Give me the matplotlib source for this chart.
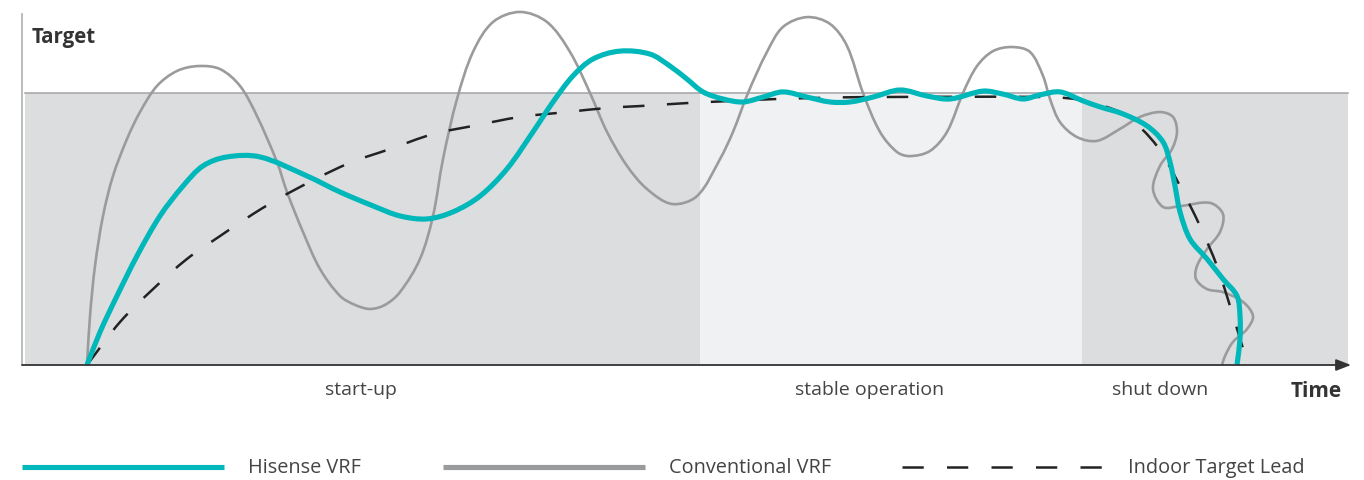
import numpy as np
import matplotlib.pyplot as plt
from matplotlib.lines import Line2D
from matplotlib.path import Path
from matplotlib.patches import PathPatch

# curves: time (arbitrary units) vs level (1.0 = target)
hisense_t = [6.5, 7.8, 9.5, 11.5, 13.8, 16.1, 18.1, 20.5, 23.8, 28.5, 31.8, 35.1, 37.8, 40.5,
             43.1, 45.8, 48.5, 51.1, 53.1, 55.1, 57.1, 59.8, 62.8, 64.8, 66.5, 68.1, 70.1,
             72.1, 74.1, 76.1, 78.5, 80.8, 82.8, 85.1, 87.8, 90.5, 92.8, 96.1, 98.1, 100.1,
             101.8, 103.8, 106.1, 107.8, 110.1, 112.5, 114.1, 114.8, 115.3, 115.8, 116.8,
             118.5, 120.1, 121.5, 121.8, 121.8, 121.5]
hisense_v = [0.0, 0.121, 0.254, 0.401, 0.548, 0.658, 0.732, 0.765, 0.765, 0.695, 0.636, 0.585,
             0.548, 0.537, 0.563, 0.621, 0.721, 0.857, 0.967, 1.063, 1.125, 1.154, 1.143, 1.099,
             1.051, 1.004, 0.978, 0.967, 0.985, 1.004, 0.985, 0.967, 0.967, 0.985, 1.011, 0.989,
             0.978, 1.007, 0.996, 0.978, 0.993, 1.004, 0.971, 0.949, 0.923, 0.879, 0.820, 0.746,
             0.658, 0.563, 0.463, 0.390, 0.316, 0.254, 0.180, 0.096, 0.0]

conv_t = [6.5, 6.8, 7.3, 8.1, 9.1, 10.5, 11.8, 13.5, 15.5, 17.6, 19.8, 21.8, 23.5, 25.5, 26.5,
          28.1, 29.8, 31.8, 33.3, 34.8, 36.3, 37.8, 39.8, 41.1, 42.1, 43.5, 45.1, 47.1, 49.8,
          52.5, 54.8, 56.8, 58.5, 60.5, 62.5, 65.0, 67.5, 69.8, 71.1, 72.6, 74.5, 76.1, 78.5,
          80.8, 82.5, 84.1, 85.8, 87.5, 88.8, 90.8, 92.5, 94.1, 95.5, 97.1, 99.0, 100.8, 102.1,
          102.8, 103.8, 105.5, 107.5, 109.8, 111.8, 113.8, 115.1, 115.5, 115.0, 113.8, 113.1,
          114.1, 115.8, 118.8, 120.1, 119.8, 118.5, 117.5, 117.4, 118.5, 120.1, 122.1, 123.1,
          122.5, 121.1, 120.3, 120.0]
conv_v = [0.0, 0.180, 0.364, 0.548, 0.695, 0.831, 0.930, 1.026, 1.081, 1.099, 1.088, 1.026,
          0.915, 0.746, 0.636, 0.489, 0.353, 0.254, 0.221, 0.206, 0.221, 0.268, 0.390, 0.548,
          0.757, 0.978, 1.151, 1.261, 1.298, 1.261, 1.151, 1.0, 0.857, 0.732, 0.647, 0.592,
          0.621, 0.757, 0.857, 1.0, 1.151, 1.243, 1.279, 1.254, 1.173, 1.0, 0.857, 0.783, 0.768,
          0.787, 0.857, 1.0, 1.099, 1.154, 1.169, 1.151, 1.063, 0.978, 0.893, 0.838, 0.824,
          0.868, 0.912, 0.930, 0.912, 0.857, 0.794, 0.732, 0.647, 0.581, 0.584, 0.596, 0.555,
          0.489, 0.426, 0.364, 0.316, 0.279, 0.268, 0.232, 0.180, 0.132, 0.085, 0.033, 0.0]

lead_t = [6.5, 9.8, 13.1, 16.5, 19.8, 23.1, 26.5, 32.5, 36.8, 41.1, 45.1, 49.8, 54.5, 58.5,
          61.8, 66.5, 71.1, 75.5, 79.8, 84.5, 102.8, 105.8, 108.2, 110.5, 113.5, 115.8, 117.8,
          119.5, 120.8, 122.6]
lead_v = [0.0, 0.158, 0.279, 0.390, 0.474, 0.555, 0.629, 0.739, 0.794, 0.849, 0.879, 0.912,
          0.930, 0.945, 0.952, 0.963, 0.971, 0.978, 0.982, 0.985, 0.985, 0.975, 0.952, 0.915,
          0.805, 0.658, 0.511, 0.364, 0.217, 0.0]

phases = ['start-up', 'stable operation', 'shut down']
phase_pos = [33.9, 84.8, 113.8]
stable_start, stable_end = 67.8, 106.0
legend_labels = ['Hisense VRF', 'Conventional VRF', 'Indoor Target Lead']

TEAL = '#00b7b9'
GRAY = '#9a9b9d'
DARK = '#222222'


def smooth(ax, xs, ys):
    # spline through the read points (tangents weighted by on-screen spacing), as bezier segments
    data = np.column_stack([xs, ys])
    scr = ax.transData.transform(data)
    n = len(data)
    d = np.hypot(*np.diff(scr, axis=0).T)
    verts = [tuple(data[0])]
    codes = [Path.MOVETO]
    for i in range(n - 1):
        p1, p2 = data[i], data[i + 1]
        if i > 0:
            m1 = (p2 - data[i - 1]) * d[i] / (d[i - 1] + d[i])
        else:
            m1 = p2 - p1
        if i + 2 < n:
            m2 = (data[i + 2] - p1) * d[i] / (d[i] + d[i + 1])
        else:
            m2 = p2 - p1
        verts += [tuple(p1 + m1 / 3), tuple(p2 - m2 / 3), tuple(p2)]
        codes += [Path.CURVE4] * 3
    return Path(verts, codes)


plt.rcParams['font.family'] = ['Open Sans', 'DejaVu Sans']

fig = plt.figure(figsize=(13.64, 4.81), dpi=100)
ax = fig.add_axes([22 / 1364, 115 / 481, 1328 / 1364, 356 / 481])
ax.set_xlim(0, 132.8)
ax.set_ylim(0, 356 / 272)

# background bands
ax.axvspan(0.3, 132.6, ymin=0, ymax=272 / 356, color='#dcdddf', lw=0, zorder=0)
ax.axvspan(stable_start, stable_end, ymin=0, ymax=272 / 356, color='#f0f1f3', lw=0, zorder=0.5)
ax.plot([0.3, 132.6], [1, 1], color='#a3a3a5', lw=1.1, zorder=1)

ax.add_patch(PathPatch(smooth(ax, conv_t, conv_v), fill=False, edgecolor=GRAY, lw=1.9,
                       joinstyle='round', zorder=2))
ax.add_patch(PathPatch(smooth(ax, lead_t, lead_v), fill=False, edgecolor=DARK, lw=1.8,
                       linestyle=(0, (8.6, 9.0)), capstyle='butt', zorder=3))
ax.add_patch(PathPatch(smooth(ax, hisense_t, hisense_v), fill=False, edgecolor=TEAL, lw=3.7,
                       joinstyle='round', capstyle='butt', zorder=4))

for s in ['top', 'right', 'bottom']:
    ax.spines[s].set_visible(False)
ax.spines['left'].set_color('#b0b0b0')
ax.spines['left'].set_linewidth(1.2)
ax.spines['left'].set_bounds(0, 351 / 272)
ax.set_xticks([])
ax.set_yticks([])
ax.patch.set_alpha(0)

# time axis arrow
ax.annotate('', xy=(132.9, 0), xytext=(0, 0),
            arrowprops=dict(arrowstyle='-|>,head_length=0.9,head_width=0.35',
                            color='#333333', lw=1.3, shrinkA=0, shrinkB=0),
            annotation_clip=False, zorder=5)

ax.text(1.0, 1.206, 'Target', fontsize=14.8, fontweight='bold', color='#333333',
        va='center', ha='left')
ax.text(132.0, -0.095, 'Time', fontsize=15, fontweight='bold', color='#333333',
        va='center', ha='right', clip_on=False)
for name, pos in zip(phases, phase_pos):
    ax.text(pos, -0.088, name, fontsize=14, color='#444444', va='center', ha='center',
            clip_on=False)


# legend row
def px(x, y):
    return x / 1364, 1 - y / 481


handles = [dict(color=TEAL, lw=3.7, ls='-'),
           dict(color=GRAY, lw=3.7, ls='-'),
           dict(color=DARK, lw=1.8, dashes=(8.5, 9.3))]
starts = [22, 443, 902]
for h, x0, lab in zip(handles, starts, legend_labels):
    (x1, y1), (x2, y2) = px(x0, 468), px(x0 + 202, 468)
    fig.add_artist(Line2D([x1, x2], [y1, y2], solid_capstyle='butt', dash_capstyle='butt', **h))
    tx, ty = px(x0 + 226, 468)
    fig.text(tx, ty, lab, fontsize=14.3, color='#444444', va='center', ha='left')

fig.savefig('out.png', dpi=100)
